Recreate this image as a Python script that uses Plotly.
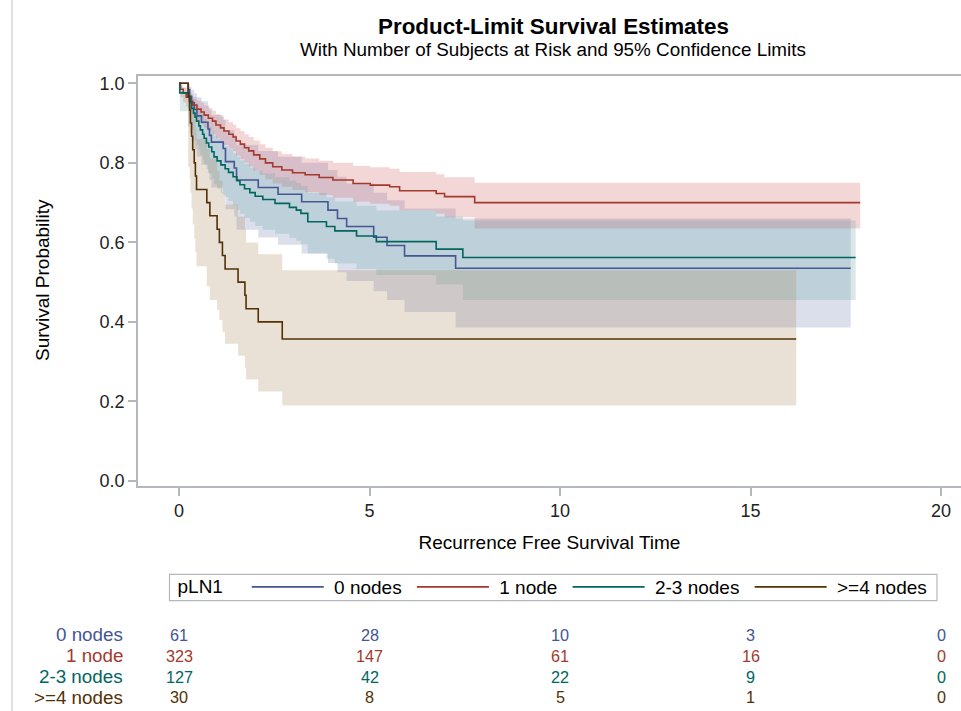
import plotly.graph_objects as go

# ---------------- data ----------------
group_names = ["0 nodes", "1 node", "2-3 nodes", ">=4 nodes"]

blue_t = [0, 0.24, 0.28, 0.33, 0.40, 0.47, 0.59, 0.76, 0.80, 0.85, 1.16, 1.22, 1.45, 1.51,
          2.08, 2.60, 3.22, 3.91, 4.16, 4.40, 5.11, 5.46, 5.92, 7.26]
blue_s = [1.0, 0.984, 0.967, 0.951, 0.934, 0.918, 0.902, 0.885, 0.869, 0.852, 0.836, 0.803,
          0.787, 0.757, 0.738, 0.721, 0.702, 0.681, 0.660, 0.640, 0.613, 0.592, 0.566, 0.535]
blue_lo = [1.0, 0.89, 0.875, 0.855, 0.835, 0.815, 0.795, 0.775, 0.757, 0.738, 0.72, 0.683,
           0.665, 0.632, 0.612, 0.594, 0.572, 0.548, 0.525, 0.503, 0.477, 0.455, 0.425, 0.386]
blue_hi = [1.0, 0.998, 0.992, 0.984, 0.975, 0.965, 0.955, 0.943, 0.932, 0.92, 0.908, 0.882,
           0.87, 0.845, 0.83, 0.815, 0.80, 0.782, 0.765, 0.748, 0.725, 0.706, 0.685, 0.66]
blue_end = 17.63

red_t = [0, 0.04, 0.11, 0.19, 0.27, 0.36, 0.47, 0.58, 0.66, 0.77, 0.88, 0.97, 1.09, 1.18,
         1.31, 1.42, 1.50, 1.61, 1.72, 1.83, 1.96, 2.12, 2.27, 2.46, 2.70, 2.98, 3.31, 3.68,
         4.04, 4.57, 5.02, 5.53, 5.79, 6.75, 6.97, 7.76]
red_s = [1.0, 0.985, 0.975, 0.965, 0.955, 0.945, 0.935, 0.928, 0.92, 0.912, 0.905, 0.895,
         0.888, 0.88, 0.872, 0.865, 0.855, 0.847, 0.838, 0.83, 0.82, 0.81, 0.80, 0.79, 0.782,
         0.775, 0.77, 0.763, 0.757, 0.748, 0.744, 0.74, 0.73, 0.723, 0.715, 0.70]
red_hi = [1.0, 0.995, 0.988, 0.981, 0.973, 0.965, 0.957, 0.951, 0.944, 0.937, 0.931, 0.922,
          0.916, 0.909, 0.902, 0.896, 0.887, 0.88, 0.872, 0.865, 0.856, 0.847, 0.838, 0.829,
          0.822, 0.816, 0.811, 0.805, 0.80, 0.792, 0.789, 0.785, 0.777, 0.771, 0.764, 0.75]
red_lo = [1.0, 0.965, 0.952, 0.94, 0.929, 0.917, 0.906, 0.898, 0.889, 0.88, 0.872, 0.861,
          0.853, 0.845, 0.836, 0.829, 0.818, 0.809, 0.80, 0.791, 0.78, 0.77, 0.759, 0.748,
          0.74, 0.732, 0.726, 0.719, 0.712, 0.702, 0.697, 0.692, 0.68, 0.672, 0.663, 0.635]
red_end = 17.88

teal_t = [0, 0.02, 0.25, 0.30, 0.33, 0.38, 0.42, 0.46, 0.52, 0.56, 0.62, 0.66, 0.72, 0.78,
          0.86, 0.92, 1.00, 1.10, 1.21, 1.30, 1.42, 1.52, 1.60, 1.72, 1.86, 2.00, 2.20, 2.52,
          2.90, 3.08, 3.20, 3.38, 3.87, 4.09, 4.66, 5.18, 6.75, 7.45]
teal_s = [1.0, 0.976, 0.965, 0.952, 0.937, 0.925, 0.915, 0.905, 0.893, 0.883, 0.872, 0.862,
          0.850, 0.840, 0.828, 0.815, 0.805, 0.795, 0.785, 0.776, 0.765, 0.755, 0.745, 0.735,
          0.725, 0.716, 0.708, 0.698, 0.688, 0.681, 0.673, 0.652, 0.640, 0.629, 0.616, 0.602,
          0.583, 0.562]
teal_hi = [1.0, 0.99, 0.985, 0.978, 0.968, 0.96, 0.953, 0.945, 0.935, 0.927, 0.918, 0.91,
           0.9, 0.891, 0.88, 0.869, 0.86, 0.851, 0.842, 0.834, 0.824, 0.815, 0.806, 0.797,
           0.788, 0.78, 0.773, 0.764, 0.755, 0.749, 0.742, 0.724, 0.713, 0.703, 0.692, 0.68,
           0.665, 0.655]
teal_lo = [1.0, 0.93, 0.915, 0.90, 0.883, 0.868, 0.857, 0.845, 0.832, 0.82, 0.808, 0.797,
           0.784, 0.773, 0.76, 0.746, 0.735, 0.724, 0.714, 0.704, 0.693, 0.682, 0.672, 0.661,
           0.651, 0.641, 0.632, 0.622, 0.611, 0.604, 0.595, 0.572, 0.559, 0.547, 0.533, 0.518,
           0.494, 0.455]
teal_end = 17.76

brown_t = [0, 0.24, 0.28, 0.30, 0.33, 0.36, 0.40, 0.43, 0.46, 0.73, 0.81, 1.00, 1.06, 1.14,
           1.21, 1.55, 1.73, 1.76, 2.08, 2.71]
brown_s = [1.0, 0.967, 0.933, 0.90, 0.867, 0.833, 0.80, 0.767, 0.733, 0.70, 0.667, 0.633,
           0.60, 0.567, 0.533, 0.50, 0.467, 0.433, 0.40, 0.357]
brown_hi = [1.0, 0.995, 0.98, 0.965, 0.95, 0.93, 0.91, 0.885, 0.86, 0.835, 0.81, 0.78, 0.755,
            0.725, 0.695, 0.665, 0.635, 0.60, 0.57, 0.53]
brown_lo = [1.0, 0.79, 0.76, 0.725, 0.685, 0.645, 0.61, 0.575, 0.54, 0.49, 0.455, 0.43, 0.405,
            0.375, 0.345, 0.315, 0.285, 0.255, 0.225, 0.19]
brown_end = 16.2

risk_times = [0, 5, 10, 15, 20]
risk_blue = [61, 28, 10, 3, 0]
risk_red = [323, 147, 61, 16, 0]
risk_teal = [127, 42, 22, 9, 0]
risk_brown = [30, 8, 5, 1, 0]

y_ticks = [0.0, 0.2, 0.4, 0.6, 0.8, 1.0]

# ---------------- styling ----------------
line_colors = ["#445694", "#A23A2E", "#01665E", "#543005"]
fill_colors = ["rgba(111,126,179,0.25)", "rgba(208,91,91,0.25)",
               "rgba(102,165,160,0.25)", "rgba(169,134,91,0.25)"]
FONT = "Liberation Sans, Arial, Helvetica, sans-serif"
NB = "\u00a0"

groups = [
    (blue_t, blue_s, blue_lo, blue_hi, blue_end, risk_blue),
    (red_t, red_s, red_lo, red_hi, red_end, risk_red),
    (teal_t, teal_s, teal_lo, teal_hi, teal_end, risk_teal),
    (brown_t, brown_s, brown_lo, brown_hi, brown_end, risk_brown),
]


def steps(t, v, end):
    xs, ys = [], []
    for i in range(len(t)):
        nxt = t[i + 1] if i + 1 < len(t) else end
        xs += [t[i], nxt]
        ys += [v[i], v[i]]
    return xs, ys


fig = go.Figure()

# confidence bands
for k, (t, s, lo, hi, end, _) in enumerate(groups):
    xu, yu = steps(t, hi, end)
    xl, yl = steps(t, lo, end)
    fig.add_trace(go.Scatter(
        x=xu + xl[::-1], y=yu + yl[::-1], fill="toself",
        fillcolor=fill_colors[k], line=dict(width=0), mode="lines",
        hoverinfo="skip", showlegend=False))

# survival curves
for k, (t, s, lo, hi, end, _) in enumerate(groups):
    fig.add_trace(go.Scatter(
        x=t + [end], y=s + [s[-1]], mode="lines", line_shape="hv",
        line=dict(color=line_colors[k], width=1.6),
        name=NB + group_names[k] + NB))

# geometry (pixels) -> plot area: x 138..961, y 76..486
L, T, B = 138, 76, 225
H = 711 - T - B


def py2paper(py):
    return (711 - B - py) / H


def px2paper(px):
    return (px - L) / (961 - L)


annotations = []
row_py = [634.5, 655.7, 676.5, 697.3]
for k, (_, _, _, _, _, risk) in enumerate(groups):
    yy = py2paper(row_py[k])
    annotations.append(dict(x=px2paper(125), y=yy, xref="paper", yref="paper",
                            text=group_names[k], showarrow=False, xanchor="right",
                            yanchor="middle", font=dict(size=18.8, color=line_colors[k], family=FONT)))
    for tt, n in zip(risk_times, risk):
        annotations.append(dict(x=tt, y=yy, xref="x", yref="paper", text=str(n),
                                showarrow=False, xanchor="center", yanchor="middle",
                                font=dict(size=16.2, color=line_colors[k], family=FONT)))

annotations.append(dict(x=px2paper(553), y=py2paper(50), xref="paper", yref="paper",
                        text="With Number of Subjects at Risk and 95% Confidence Limits",
                        showarrow=False, xanchor="center", yanchor="middle",
                        font=dict(size=18.85, color="#000", family=FONT)))
annotations.append(dict(x=px2paper(42), y=py2paper(280), xref="paper", yref="paper",
                        text="Survival Probability", textangle=-90, showarrow=False,
                        xanchor="center", yanchor="middle",
                        font=dict(size=19, color="#000", family=FONT)))

fig.update_layout(
    width=961, height=711,
    margin=dict(l=L, r=0, t=T, b=B),
    paper_bgcolor="white", plot_bgcolor="white",
    font=dict(family=FONT, color="#000"),
    title=dict(text="<b>Product-Limit Survival Estimates</b>", x=553.5 / 961, xanchor="center",
               y=1 - 26 / 711, yanchor="middle", yref="container",
               font=dict(size=22.4, color="#000", family=FONT)),
    xaxis=dict(range=[(L - 179) / 38.1, (961 - 179) / 38.1], tickvals=risk_times,
               ticktext=[str(v) for v in risk_times],
               showgrid=False, zeroline=False, showline=True, linecolor="#B4B8BC",
               linewidth=1.5, mirror=True, ticks="outside", ticklen=8, tickcolor="#B4B8BC",
               tickwidth=1.5, tickfont=dict(size=18, color="#222"),
               title=dict(text="Recurrence Free Survival Time", standoff=15,
                          font=dict(size=19, color="#000"))),
    yaxis=dict(range=[(481 - 486) / 397.7, (481 - 76) / 397.7], tickvals=y_ticks,
               tickformat=".1f", showgrid=False, zeroline=False, showline=True,
               linecolor="#B4B8BC", linewidth=1.5, ticks="outside", ticklen=8,
               tickcolor="#B4B8BC", tickwidth=1.5, tickfont=dict(size=18, color="#222")),
    legend=dict(orientation="h", x=px2paper(175.5), y=py2paper(568), xanchor="left",
                yanchor="top", borderwidth=0, bgcolor="rgba(0,0,0,0)", itemwidth=72,
                font=dict(size=19, color="#000", family=FONT),
                title=dict(text="pLN1   ", side="left", font=dict(size=19, color="#000"))),
    annotations=annotations,
    shapes=[
        dict(type="line", xref="paper", yref="paper", x0=px2paper(12), x1=px2paper(12),
             y0=py2paper(0), y1=py2paper(711), line=dict(color="#D4D4D4", width=1.5)),
        dict(type="rect", xref="paper", yref="paper", x0=px2paper(169.5), x1=px2paper(937),
             y0=py2paper(574.3), y1=py2paper(600.7), line=dict(color="#B4B8BC", width=1.2),
             fillcolor="rgba(0,0,0,0)"),
    ],
)

fig.write_html("out.html", config={"displayModeBar": False},
               post_script="document.body.style.margin='0px';")
